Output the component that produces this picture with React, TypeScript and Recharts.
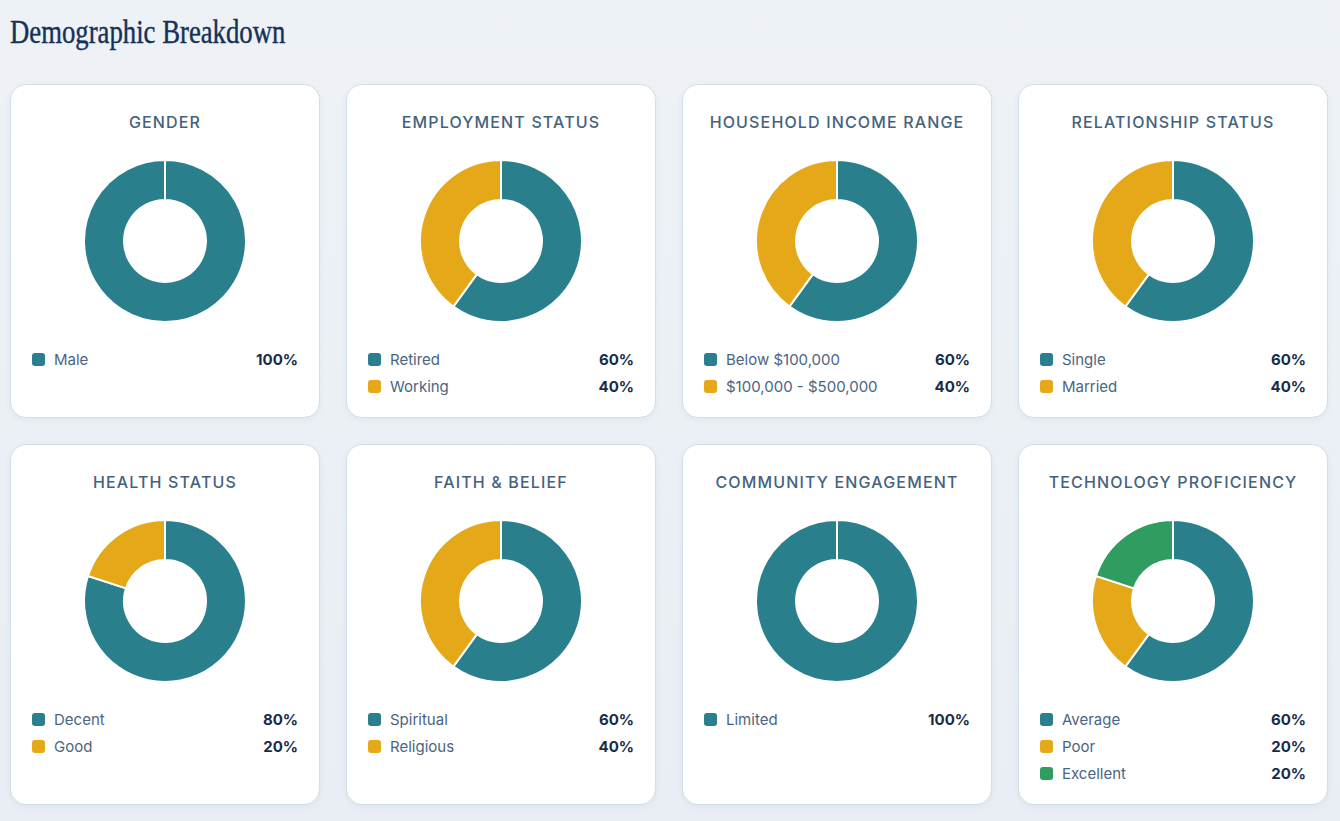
import React from "react";
import { PieChart, Pie, Cell } from "recharts";

const TEAL = "#2a7f8d";
const GOLD = "#e5a819";
const GREEN = "#2e9d5f";

const titles = [
  "Gender",
  "Employment Status",
  "Household Income Range",
  "Relationship Status",
  "Health Status",
  "Faith & Belief",
  "Community Engagement",
  "Technology Proficiency",
];

const labels = [
  ["Male"],
  ["Retired", "Working"],
  ["Below $100,000", "$100,000 - $500,000"],
  ["Single", "Married"],
  ["Decent", "Good"],
  ["Spiritual", "Religious"],
  ["Limited"],
  ["Average", "Poor", "Excellent"],
];

const values = [
  [100],
  [60, 40],
  [60, 40],
  [60, 40],
  [80, 20],
  [60, 40],
  [100],
  [60, 20, 20],
];

const palette = [TEAL, GOLD, GREEN];

const font = "'Inter', 'Noto Sans', sans-serif";

type CardProps = { title: string; names: string[]; nums: number[] };

const DonutCard: React.FC<CardProps> = ({ title, names, nums }) => {
  const data = names.map((name, i) => ({ name, value: nums[i] }));
  return (
    <div
      style={{
        boxSizing: "border-box",
        background: "#fff",
        border: "1px solid #d3dee9",
        borderRadius: 16,
        boxShadow: "0 2px 6px rgba(30,60,100,0.06)",
        padding: "27px 21px 17px 21px",
        display: "flex",
        flexDirection: "column",
      }}
    >
      <div
        style={{
          textAlign: "center",
          fontSize: 16,
          lineHeight: "20px",
          fontWeight: 500,
          letterSpacing: 1.15,
          color: "#44627e",
          textTransform: "uppercase",
        }}
      >
        {title}
      </div>
      <div style={{ marginTop: 19, height: 180 }}>
        <PieChart width={266} height={180}>
          <Pie
            data={data}
            dataKey="value"
            nameKey="name"
            cx="50%"
            cy="50%"
            innerRadius={41}
            outerRadius={81}
            startAngle={90}
            endAngle={-270}
            stroke="#fff"
            strokeWidth={2}
            isAnimationActive={false}
          >
            {data.map((d, i) => (
              <Cell key={d.name} fill={palette[i]} />
            ))}
          </Pie>
        </PieChart>
      </div>
      <div style={{ marginTop: 15 }}>
        {data.map((d, i) => (
          <div
            key={d.name}
            style={{
              display: "flex",
              alignItems: "center",
              height: 27,
              fontSize: 15,
            }}
          >
            <span
              style={{
                width: 13,
                height: 13,
                borderRadius: 3,
                background: palette[i],
                marginRight: 9,
              }}
            />
            <span style={{ color: "#4a6581", flex: 1 }}>{d.name}</span>
            <span style={{ color: "#172c48", fontWeight: 700 }}>{d.value}%</span>
          </div>
        ))}
      </div>
    </div>
  );
};

export default function App() {
  return (
    <div
      style={{
        position: "fixed",
        inset: 0,
        background: "linear-gradient(180deg, #eef2f7 0%, #e9eef4 100%)",
        fontFamily: font,
      }}
    >
      <div
        style={{
          position: "absolute",
          left: 10,
          top: 12,
          fontFamily: "'Liberation Serif', 'DejaVu Serif', serif",
          fontSize: 33,
          lineHeight: "40px",
          color: "#163157",
          transform: "scaleX(0.81)",
          transformOrigin: "left center",
          WebkitTextStroke: "0.4px #163157",
          whiteSpace: "nowrap",
        }}
      >
        Demographic Breakdown
      </div>
      <div
        style={{
          position: "absolute",
          left: 10,
          top: 84,
          display: "grid",
          gridTemplateColumns: "repeat(4, 310px)",
          columnGap: 26,
          rowGap: 26,
        }}
      >
        {titles.map((t, i) => (
          <DonutCard key={t} title={t} names={labels[i]} nums={values[i]} />
        ))}
      </div>
    </div>
  );
}
